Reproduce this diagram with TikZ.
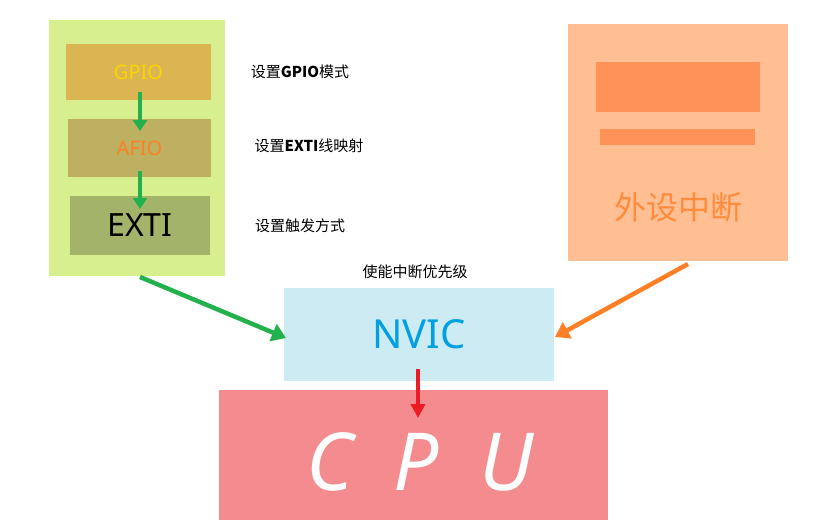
\documentclass[tikz,border=0pt]{standalone}
\usepackage{fontspec}
\setmainfont{Noto Sans}
\newfontfamily\cjk{Noto Sans CJK SC}
\usetikzlibrary{arrows.meta}
\definecolor{gbg}{HTML}{D8EF8F}
\definecolor{gpio}{HTML}{DAB552}
\definecolor{afio}{HTML}{BDB060}
\definecolor{exti}{HTML}{A3B46A}
\definecolor{nvic}{HTML}{CDEBF2}
\definecolor{cpu}{HTML}{F48C8F}
\definecolor{obg}{HTML}{FFBF93}
\definecolor{oin}{HTML}{FF9258}
\definecolor{agreen}{HTML}{22B14C}
\definecolor{aorange}{HTML}{FF7F27}
\definecolor{ared}{HTML}{ED1C24}
\begin{document}
\begin{tikzpicture}[x=1pt,y=-1pt,
  box/.style={draw=none,inner sep=0pt},
  arr/.style={line width=4.5pt,-{Triangle[length=14pt,width=18pt]}},
  lbl/.style={font=\cjk\fontsize{15}{15}\selectfont,anchor=center}]
\useasboundingbox (0,0) rectangle (816,528);
\fill[white] (0,0) rectangle (816,528);
\node[box,fill=gbg,minimum width=176pt,minimum height=256pt] (gb) at (137,148) {};
\node[box,fill=gpio,minimum width=145pt,minimum height=56pt,text=yellow!70!orange,font=\bfseries\fontsize{20}{20}\selectfont] (gpio) at (138.5,72) {GPIO};
\node[box,fill=afio,minimum width=143pt,minimum height=58pt,text=aorange,font=\bfseries\fontsize{20}{20}\selectfont] (afio) at (139.5,148) {AFIO};
\node[box,fill=exti,minimum width=140pt,minimum height=59pt,text=black,font=\bfseries\fontsize{32}{32}\selectfont] (exti) at (140,225.5) {EXTI};
\node[lbl] (l1) at (300,72) {设置\textbf{GPIO}模式};
\node[lbl] (l2) at (309,146) {设置\textbf{EXTI}线映射};
\node[lbl] (l3) at (300,226) {设置触发方式};
\node[lbl] (l4) at (415,272) {使能中断优先级};
\node[box,fill=nvic,minimum width=270pt,minimum height=93pt,text={rgb,255:red,0;green,160;blue,227},font=\bfseries\fontsize{40}{40}\selectfont] (nvic) at (419,334.5) {NVIC};
\node[box,fill=cpu,minimum width=389pt,minimum height=130pt] (cpu) at (413.5,455) {};
\node[text=white,font=\bfseries\itshape\fontsize{80}{80}\selectfont] (cput) at (420,462) {C\hspace{40pt}P\hspace{40pt}U};
\node[box,fill=obg,minimum width=220pt,minimum height=237pt] (ob) at (678,142.5) {};
\node[box,fill=oin,minimum width=164pt,minimum height=50pt] (oi) at (678,87) {};
\node[box,fill=oin,minimum width=155pt,minimum height=16pt] (os) at (677.5,137) {};
\node[font=\cjk\fontsize{32}{32}\selectfont,text=aorange!90!white] (ot) at (678,207) {外设中断};
\coordinate (g1) at (140,92); \coordinate (g2) at (140,131);
\coordinate (g3) at (140,171); \coordinate (g4) at (140,209);
\draw[arr,agreen,line width=4pt,-{Triangle[length=11pt,width=14pt]}] (g1) -- (g2);
\draw[arr,agreen,line width=4pt,-{Triangle[length=11pt,width=14pt]}] (g3) -- (g4);
\coordinate (ga) at (140,277); \coordinate (gz) at (286,338);
\draw[arr,agreen] (ga) -- (gz);
\coordinate (oa) at (688,264); \coordinate (oz) at (555,337);
\draw[arr,aorange] (oa) -- (oz);
\coordinate (ra) at (418,369); \coordinate (rz) at (418,418);
\draw[arr,ared,line width=3.5pt,-{Triangle[length=14pt,width=14pt]}] (ra) -- (rz);
\end{tikzpicture}
\end{document}
